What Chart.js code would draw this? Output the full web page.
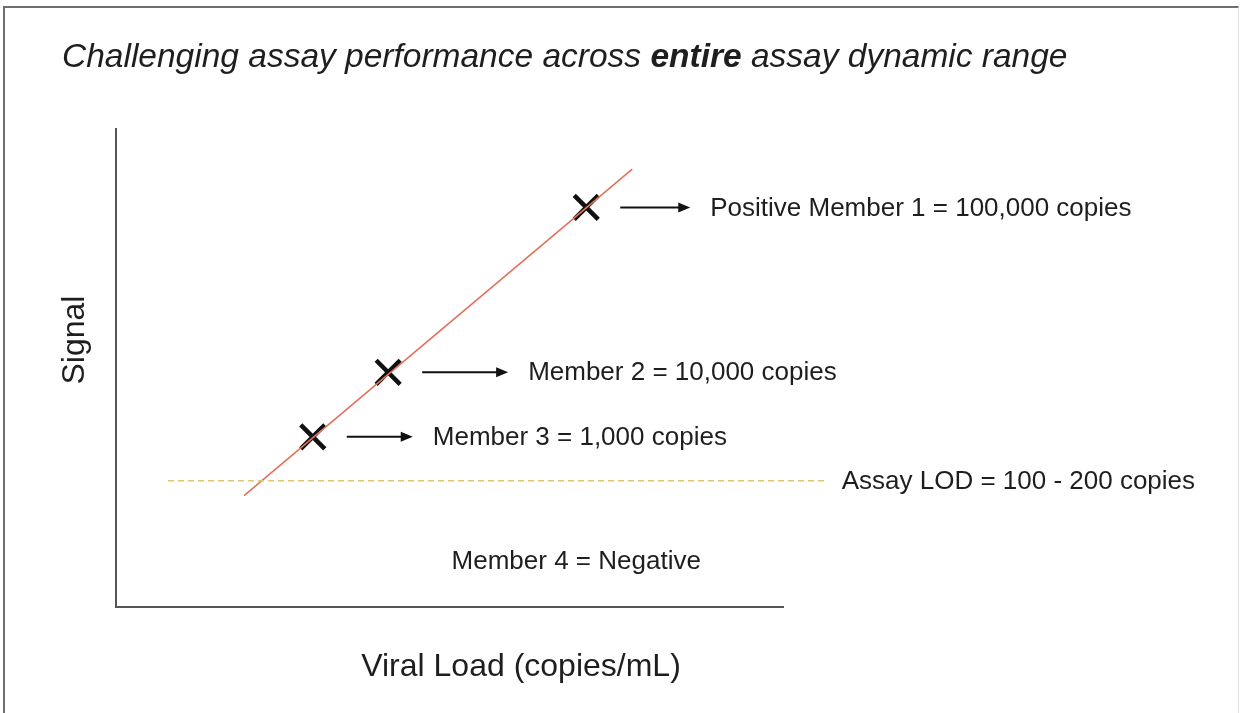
<!DOCTYPE html>
<html>
<head>
<meta charset="utf-8">
<script src="https://cdn.jsdelivr.net/npm/chart.js@4"></script>
<style>
  html, body { margin: 0; padding: 0; background: #fff; }
  #wrap { position: relative; width: 1242px; height: 713px; }
  #frame { position: absolute; left: 3px; top: 6px; right: 3px; bottom: -4px;
           border-top: 2px solid #6e6e6e; border-left: 2px solid #6e6e6e; border-right: 1px solid #e2e2e2; }
  canvas { position: absolute; left: 0; top: 0; }
</style>
</head>
<body>
<div id="wrap">
  <div id="frame"></div>
  <canvas id="rangeChart" width="1242" height="713"></canvas>
</div>
<script>
// schematic units, 0-100 on both axes
const memberLabels = ['Positive Member 1 = 100,000 copies', 'Member 2 = 10,000 copies', 'Member 3 = 1,000 copies'];
const memberX = [70.5, 40.8, 29.5];
const memberY = [83.6, 49.1, 35.6];

const fitX = [19.2, 77.4];
const fitY = [23.3, 91.6];

const lodLabel = 'Assay LOD = 100 - 200 copies';
const lodX = [7.8, 106.4];
const lodY = [26.4, 26.4];

const negativeLabel = 'Member 4 = Negative';
const negativeX = 69.0;
const negativeY = 9.4;

const FONT = '"Liberation Sans", Arial, sans-serif';
const TEXT = '#1e1e1e';

// gap (px) from each marker to the start of its label text
const labelGap = [124, 140, 120];

const annotations = {
  id: 'annotations',
  afterDraw(chart) {
    const { ctx, scales: { x, y } } = chart;
    ctx.save();
    ctx.fillStyle = TEXT;
    ctx.strokeStyle = '#111';

    // title, mixed italic / bold italic
    const parts = [
      ['italic 33.5px ' + FONT, 'Challenging assay performance across '],
      ['italic bold 33.5px ' + FONT, 'entire'],
      ['italic 33.5px ' + FONT, ' assay dynamic range']
    ];
    let tx = 62;
    ctx.textBaseline = 'alphabetic';
    parts.forEach(([f, s]) => {
      ctx.font = f;
      ctx.fillText(s, tx, 67);
      tx += ctx.measureText(s).width;
    });

    // arrows + member labels
    ctx.font = '26px ' + FONT;
    ctx.textBaseline = 'middle';
    memberLabels.forEach((lab, i) => {
      const px = x.getPixelForValue(memberX[i]);
      const py = y.getPixelForValue(memberY[i]);
      const x0 = px + 34, x1 = px + labelGap[i] - 20;
      ctx.lineWidth = 2;
      ctx.beginPath();
      ctx.moveTo(x0, py);
      ctx.lineTo(x1 - 8, py);
      ctx.stroke();
      ctx.beginPath();
      ctx.moveTo(x1, py);
      ctx.lineTo(x1 - 12, py - 5);
      ctx.lineTo(x1 - 12, py + 5);
      ctx.closePath();
      ctx.fillStyle = '#111';
      ctx.fill();
      ctx.fillStyle = TEXT;
      ctx.fillText(lab, px + labelGap[i], py + 1);
    });

    // LOD label
    ctx.fillText(lodLabel, x.getPixelForValue(lodX[1]) + 16, y.getPixelForValue(lodY[1]) + 1);

    // negative member
    ctx.textAlign = 'center';
    ctx.fillText(negativeLabel, x.getPixelForValue(negativeX), y.getPixelForValue(negativeY));

    // axis titles
    ctx.font = '32px ' + FONT;
    ctx.fillText('Viral Load (copies/mL)', 521, 667);
    ctx.translate(75, 340);
    ctx.rotate(-Math.PI / 2);
    ctx.fillText('Signal', 0, 0);
    ctx.restore();
  }
};

new Chart(document.getElementById('rangeChart'), {
  type: 'scatter',
  data: {
    datasets: [
      {
        label: 'LOD',
        type: 'line',
        data: lodX.map((v, i) => ({ x: v, y: lodY[i] })),
        borderColor: '#dcc86e',
        borderWidth: 1.5,
        borderDash: [6, 4],
        pointRadius: 0,
        clip: false
      },
      {
        label: 'Fit',
        type: 'line',
        data: fitX.map((v, i) => ({ x: v, y: fitY[i] })),
        borderColor: '#e2715c',
        borderWidth: 1.6,
        pointRadius: 0,
        clip: false
      },
      {
        label: 'Members',
        data: memberX.map((v, i) => ({ x: v, y: memberY[i] })),
        pointStyle: 'crossRot',
        pointRadius: 17,
        borderColor: '#111',
        borderWidth: 4.5,
        clip: false
      }
    ]
  },
  options: {
    responsive: false,
    animation: false,
    layout: { padding: { left: 116, top: 129, right: 459, bottom: 106 } },
    plugins: { legend: { display: false }, tooltip: { enabled: false } },
    scales: {
      x: {
        type: 'linear', min: 0, max: 100,
        ticks: { display: false },
        grid: { display: false, drawTicks: false },
        border: { display: true, color: '#555', width: 2 }
      },
      y: {
        type: 'linear', min: 0, max: 100,
        ticks: { display: false },
        grid: { display: false, drawTicks: false },
        border: { display: true, color: '#555', width: 2 }
      }
    }
  },
  plugins: [annotations]
});
</script>
</body>
</html>
